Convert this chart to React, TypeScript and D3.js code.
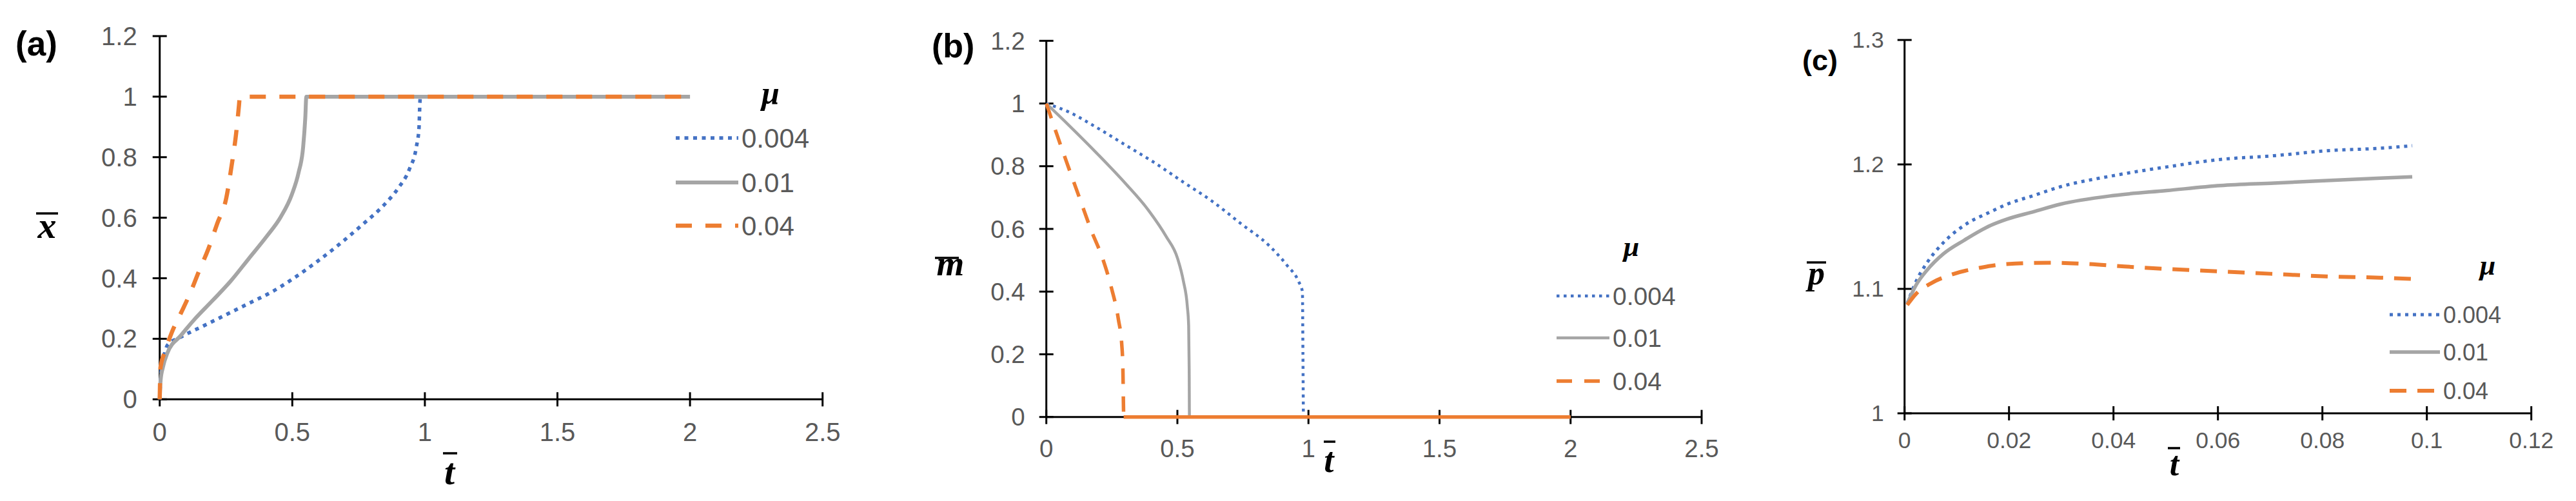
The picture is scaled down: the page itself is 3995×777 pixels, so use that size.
import React from "react";
import * as d3 from "d3";

// ---------- DATA ----------
const muLabels = ["0.004", "0.01", "0.04"];

// Panel (a): x̄ vs t̄
const aMu004: [number, number][] = [
  [0, 0], [0.005, 0.09], [0.015, 0.14], [0.03, 0.18], [0.08, 0.206], [0.166, 0.243],
  [0.251, 0.28], [0.336, 0.317], [0.421, 0.354], [0.507, 0.401], [0.592, 0.454],
  [0.677, 0.512], [0.763, 0.576], [0.848, 0.644], [0.899, 0.697], [0.942, 0.761],
  [0.968, 0.834], [0.978, 0.898], [0.981, 0.975], [0.983, 1], [2, 1],
];
const aMu01: [number, number][] = [
  [0, 0], [0.003, 0.06], [0.012, 0.106], [0.029, 0.153], [0.08, 0.211], [0.131, 0.264],
  [0.2, 0.327], [0.268, 0.391], [0.336, 0.465], [0.404, 0.539], [0.456, 0.602],
  [0.498, 0.676], [0.524, 0.75], [0.541, 0.834], [0.549, 0.93], [0.553, 1], [2, 1],
];
const aMu04: [number, number][] = [
  [0, 0], [0.003, 0.106], [0.02, 0.158], [0.046, 0.222], [0.08, 0.285], [0.114, 0.349],
  [0.148, 0.423], [0.183, 0.496], [0.217, 0.581], [0.251, 0.665], [0.271, 0.771],
  [0.288, 0.877], [0.299, 0.972], [0.302, 1], [2, 1],
];

// Panel (b): m̄ vs t̄
const bMu004: [number, number][] = [
  [0, 1], [0.083, 0.974], [0.193, 0.923], [0.303, 0.867], [0.413, 0.811], [0.523, 0.749],
  [0.633, 0.688], [0.742, 0.617], [0.852, 0.545], [0.918, 0.484], [0.962, 0.433],
  [0.977, 0.4], [0.979, 0.2], [0.981, 0], [2, 0],
];
const bMu01: [number, number][] = [
  [0, 1], [0.083, 0.933], [0.193, 0.841], [0.303, 0.744], [0.391, 0.658], [0.457, 0.576],
  [0.501, 0.505], [0.523, 0.433], [0.538, 0.352], [0.543, 0.291], [0.545, 0.15],
  [0.546, 0], [2, 0],
];
const bMu04: [number, number][] = [
  [0, 1], [0.04, 0.902], [0.083, 0.8], [0.127, 0.698], [0.171, 0.596], [0.215, 0.505],
  [0.248, 0.413], [0.275, 0.311], [0.288, 0.229], [0.292, 0.158], [0.294, 0.05],
  [0.295, 0], [2, 0],
];

// Panel (c): p̄ vs t̄
const cMu004: [number, number][] = [
  [0.0005, 1.088], [0.0022, 1.106], [0.0043, 1.121], [0.0074, 1.137], [0.0114, 1.151],
  [0.0165, 1.162], [0.0196, 1.168], [0.0247, 1.175], [0.0298, 1.182], [0.04, 1.191],
  [0.0502, 1.198], [0.0605, 1.204], [0.0707, 1.207], [0.0809, 1.211], [0.0911, 1.213],
  [0.0972, 1.215],
];
const cMu01: [number, number][] = [
  [0.0005, 1.088], [0.0022, 1.103], [0.0043, 1.115], [0.0074, 1.128], [0.0114, 1.139],
  [0.0165, 1.151], [0.0196, 1.156], [0.0247, 1.162], [0.0298, 1.168], [0.04, 1.175],
  [0.0502, 1.179], [0.0605, 1.183], [0.0707, 1.185], [0.0809, 1.187], [0.0911, 1.189],
  [0.0972, 1.19],
];
const cMu04: [number, number][] = [
  [0.0005, 1.087], [0.0022, 1.096], [0.0053, 1.105], [0.0094, 1.112], [0.0145, 1.117],
  [0.0196, 1.12], [0.0278, 1.121], [0.0349, 1.12], [0.0421, 1.118], [0.0502, 1.116],
  [0.0605, 1.114], [0.0707, 1.112], [0.0809, 1.11], [0.0911, 1.109], [0.0972, 1.108],
];

// Ticks
const xTicksAB = [0, 0.5, 1, 1.5, 2, 2.5];
const xTickLabelsAB = ["0", "0.5", "1", "1.5", "2", "2.5"];
const yTicksAB = [0, 0.2, 0.4, 0.6, 0.8, 1, 1.2];
const yTickLabelsAB = ["0", "0.2", "0.4", "0.6", "0.8", "1", "1.2"];
const xTicksC = [0, 0.02, 0.04, 0.06, 0.08, 0.1, 0.12];
const xTickLabelsC = ["0", "0.02", "0.04", "0.06", "0.08", "0.1", "0.12"];
const yTicksC = [1, 1.1, 1.2, 1.3];
const yTickLabelsC = ["1", "1.1", "1.2", "1.3"];

// ---------- STYLE ----------
const BLUE = "#4472C4";
const GREY = "#A5A5A5";
const ORANGE = "#ED7D31";
const TICK_COLOR = "#595959";
const SANS = "'Liberation Sans', Arial, sans-serif";
const SERIF = "'Liberation Serif', 'Times New Roman', serif";

type Series = {
  label: string;
  data: [number, number][];
  color: string;
  width: number;
  dash?: string;
  solidAtZero?: boolean;
};

type PanelCfg = {
  tag: string;
  tagX: number;
  tagY: number;
  tagSize: number;
  xDomain: [number, number];
  xRange: [number, number];
  yDomain: [number, number];
  yRange: [number, number];
  xTicks: number[];
  xTickLabels: string[];
  yTicks: number[];
  yTickLabels: string[];
  tickSize: number;
  yLabelGap: number;
  xLabelOffset: number;
  series: Series[];
  yTitle: { ch: string; x: number; base: number; size: number; barY: number; barX1: number; barX2: number };
  xTitle: { ch: string; x: number; base: number; size: number; barY: number; barX1: number; barX2: number };
  legend: { x0: number; len: number; rows: number[]; font: number; muX: number; muBase: number; muSize: number };
};

const panels: PanelCfg[] = [
  {
    tag: "(a)", tagX: 24, tagY: 86, tagSize: 53,
    xDomain: [0, 2.5], xRange: [247.7, 1275.7],
    yDomain: [0, 1.2], yRange: [619.3, 56],
    xTicks: xTicksAB, xTickLabels: xTickLabelsAB,
    yTicks: yTicksAB, yTickLabels: yTickLabelsAB,
    tickSize: 40, yLabelGap: 35, xLabelOffset: 51,
    series: [
      { label: muLabels[0], data: aMu004, color: BLUE, width: 5.5, dash: "6 7.5" },
      { label: muLabels[1], data: aMu01, color: GREY, width: 6 },
      { label: muLabels[2], data: aMu04, color: ORANGE, width: 6.5, dash: "25 21" },
    ],
    yTitle: { ch: "x", x: 73, base: 369, size: 58, barY: 331, barX1: 56, barX2: 90 },
    xTitle: { ch: "t", x: 697, base: 751, size: 58, barY: 703, barX1: 687, barX2: 709 },
    legend: { x0: 1048, len: 97, rows: [214, 283, 350], font: 42, muX: 1195, muBase: 161, muSize: 50 },
  },
  {
    tag: "(b)", tagX: 1445, tagY: 89, tagSize: 52,
    xDomain: [0, 2.5], xRange: [1622.7, 2639],
    yDomain: [0, 1.2], yRange: [646.7, 63.3],
    xTicks: xTicksAB, xTickLabels: xTickLabelsAB,
    yTicks: yTicksAB, yTickLabels: yTickLabelsAB,
    tickSize: 38.5, yLabelGap: 33, xLabelOffset: 49,
    series: [
      { label: muLabels[0], data: bMu004, color: BLUE, width: 4.5, dash: "4.5 6.5" },
      { label: muLabels[1], data: bMu01, color: GREY, width: 4.5 },
      { label: muLabels[2], data: bMu04, color: ORANGE, width: 5.5, dash: "24 19", solidAtZero: true },
    ],
    yTitle: { ch: "m", x: 1474, base: 427, size: 55, barY: 400, barX1: 1450, barX2: 1487 },
    xTitle: { ch: "t", x: 2061, base: 732, size: 55, barY: 685, barX1: 2053, barX2: 2071 },
    legend: { x0: 2414, len: 82, rows: [459, 524, 591], font: 39, muX: 2530, muBase: 397, muSize: 44 },
  },
  {
    tag: "(c)", tagX: 2795, tagY: 109, tagSize: 45,
    xDomain: [0, 0.12], xRange: [2953.7, 3925.7],
    yDomain: [1, 1.3], yRange: [641, 62],
    xTicks: xTicksC, xTickLabels: xTickLabelsC,
    yTicks: yTicksC, yTickLabels: yTickLabelsC,
    tickSize: 35.5, yLabelGap: 32, xLabelOffset: 41.5,
    series: [
      { label: muLabels[0], data: cMu004, color: BLUE, width: 5, dash: "5 7" },
      { label: muLabels[1], data: cMu01, color: GREY, width: 5.5 },
      { label: muLabels[2], data: cMu04, color: ORANGE, width: 6, dash: "26 17" },
    ],
    yTitle: { ch: "p", x: 2817, base: 441, size: 52, barY: 407, barX1: 2802, barX2: 2832 },
    xTitle: { ch: "t", x: 3372, base: 737, size: 52, barY: 695, barX1: 3362, barX2: 3381 },
    legend: { x0: 3706, len: 78, rows: [488, 546, 606], font: 36, muX: 3858, muBase: 426, muSize: 44 },
  },
];

function Panel({ cfg }: { cfg: PanelCfg }) {
  const x = d3.scaleLinear().domain(cfg.xDomain).range(cfg.xRange);
  const y = d3.scaleLinear().domain(cfg.yDomain).range(cfg.yRange);
  const line = d3
    .line<[number, number]>()
    .x((d) => x(d[0]))
    .y((d) => y(d[1]))
    .curve(d3.curveMonotoneX);
  const x0 = cfg.xRange[0];
  const x1 = cfg.xRange[1];
  const yBase = cfg.yRange[0];
  const yTop = cfg.yRange[1];
  const tk = 11;

  const paths: React.ReactNode[] = [];
  cfg.series.forEach((s, i) => {
    if (s.solidAtZero) {
      const zi = s.data.findIndex((d) => d[1] === 0);
      const head = s.data.slice(0, zi + 1);
      const tail = s.data.slice(zi);
      paths.push(
        <path key={`s${i}a`} d={line(head) || ""} fill="none" stroke={s.color} strokeWidth={s.width} strokeDasharray={s.dash} />
      );
      paths.push(
        <path key={`s${i}b`} d={line(tail) || ""} fill="none" stroke={s.color} strokeWidth={s.width} />
      );
    } else {
      paths.push(
        <path key={`s${i}`} d={line(s.data) || ""} fill="none" stroke={s.color} strokeWidth={s.width} strokeDasharray={s.dash} />
      );
    }
  });

  const L = cfg.legend;
  return (
    <g>
      {/* axes */}
      <line x1={x0} x2={x1} y1={yBase} y2={yBase} stroke="#000" strokeWidth={3} />
      <line x1={x0} x2={x0} y1={yBase} y2={yTop} stroke="#000" strokeWidth={3} />
      {cfg.xTicks.map((t, i) => (
        <g key={`xt${i}`}>
          <line x1={x(t)} x2={x(t)} y1={yBase - tk} y2={yBase + tk} stroke="#000" strokeWidth={3} />
          <text
            x={x(t)}
            y={yBase + cfg.xLabelOffset}
            textAnchor="middle"
            dominantBaseline="central"
            fontFamily={SANS}
            fontSize={cfg.tickSize}
            fill={TICK_COLOR}
          >
            {cfg.xTickLabels[i]}
          </text>
        </g>
      ))}
      {cfg.yTicks.map((t, i) => (
        <g key={`yt${i}`}>
          <line x1={x0 - tk} x2={x0 + tk} y1={y(t)} y2={y(t)} stroke="#000" strokeWidth={3} />
          <text
            x={x0 - cfg.yLabelGap}
            y={y(t)}
            textAnchor="end"
            dominantBaseline="central"
            fontFamily={SANS}
            fontSize={cfg.tickSize}
            fill={TICK_COLOR}
          >
            {cfg.yTickLabels[i]}
          </text>
        </g>
      ))}
      {/* series */}
      {paths}
      {/* panel tag */}
      <text x={cfg.tagX} y={cfg.tagY} fontFamily={SANS} fontWeight="bold" fontSize={cfg.tagSize} fill="#000">
        {cfg.tag}
      </text>
      {/* axis titles */}
      {[cfg.yTitle, cfg.xTitle].map((tt, i) => (
        <g key={`tt${i}`}>
          <text
            x={tt.x}
            y={tt.base}
            textAnchor="middle"
            fontFamily={SERIF}
            fontStyle="italic"
            fontWeight="bold"
            fontSize={tt.size}
            fill="#000"
          >
            {tt.ch}
          </text>
          <line x1={tt.barX1} x2={tt.barX2} y1={tt.barY} y2={tt.barY} stroke="#000" strokeWidth={3.5} />
        </g>
      ))}
      {/* legend */}
      <text
        x={L.muX}
        y={L.muBase}
        textAnchor="middle"
        fontFamily={SERIF}
        fontStyle="italic"
        fontWeight="bold"
        fontSize={L.muSize}
        fill="#000"
      >
        μ
      </text>
      {cfg.series.map((s, i) => (
        <g key={`lg${i}`}>
          <line
            x1={L.x0}
            x2={L.x0 + L.len}
            y1={L.rows[i]}
            y2={L.rows[i]}
            stroke={s.color}
            strokeWidth={s.width}
            strokeDasharray={s.dash}
          />
          <text
            x={L.x0 + L.len + 5}
            y={L.rows[i]}
            dominantBaseline="central"
            fontFamily={SANS}
            fontSize={L.font}
            fill={TICK_COLOR}
          >
            {s.label}
          </text>
        </g>
      ))}
    </g>
  );
}

export default function App() {
  return (
    <svg
      width={3995}
      height={777}
      viewBox="0 0 3995 777"
      style={{ position: "absolute", left: 0, top: 0, display: "block", background: "#fff" }}
    >
      <rect x={0} y={0} width={3995} height={777} fill="#fff" />
      {panels.map((p, i) => (
        <Panel key={i} cfg={p} />
      ))}
    </svg>
  );
}
